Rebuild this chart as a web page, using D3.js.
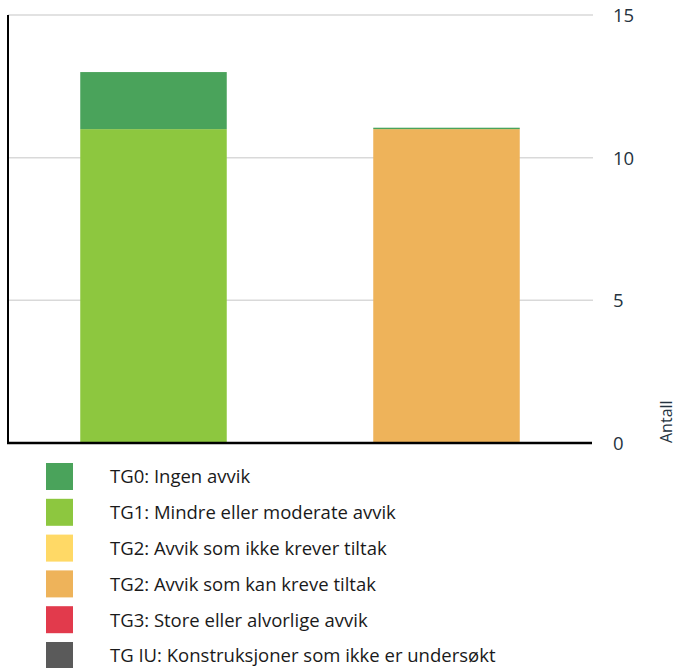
<!DOCTYPE html>
<html>
<head>
<meta charset="utf-8">
<script src="https://cdn.jsdelivr.net/npm/d3@7"></script>
<style>
  html, body { margin: 0; padding: 0; background: #fff; }
  svg { display: block; }
  text { font-family: "Open Sans", Lato, sans-serif; }
</style>
</head>
<body>
<svg id="chart" width="687" height="668"></svg>
<script>
const categories = ["A", "B"];
const seriesNames = [
  "TG0: Ingen avvik",
  "TG1: Mindre eller moderate avvik",
  "TG2: Avvik som ikke krever tiltak",
  "TG2: Avvik som kan kreve tiltak",
  "TG3: Store eller alvorlige avvik",
  "TG IU: Konstruksjoner som ikke er undersøkt"
];
const seriesColors = ["#4aa35b", "#8dc73f", "#ffd966", "#eeb35a", "#e23a4c", "#5a5a5a"];
// stacking order bottom -> top
const tg1 = [11, 0];
const tg2ikke = [0, 0];
const tg2kan = [0, 11];
const tg3 = [0, 0];
const tgiu = [0, 0];
const tg0 = [2, 0.05];
const yTicks = [0, 5, 10, 15];
const yLabel = "Antall";

(function () {
const stackOrder = [
  { name: seriesNames[1], color: seriesColors[1], values: tg1 },
  { name: seriesNames[2], color: seriesColors[2], values: tg2ikke },
  { name: seriesNames[3], color: seriesColors[3], values: tg2kan },
  { name: seriesNames[4], color: seriesColors[4], values: tg3 },
  { name: seriesNames[5], color: seriesColors[5], values: tgiu },
  { name: seriesNames[0], color: seriesColors[0], values: tg0 }
];

const svg = d3.select("#chart");
const pLeft = 7, pRight = 593, pTop = 15, pBottom = 443;

const x = d3.scaleBand().domain(categories).range([pLeft, pRight]).paddingInner(0.5).paddingOuter(0.25);
const y = d3.scaleLinear().domain([0, 15]).range([pBottom, pTop]);

// gridlines
svg.append("g").selectAll("line").data(yTicks.filter(t => t > 0)).join("line")
  .attr("x1", 8).attr("x2", pRight)
  .attr("y1", d => y(d)).attr("y2", d => y(d))
  .attr("stroke", "#d9d9d9").attr("stroke-width", 1.5);

// stacked bars
const table = categories.map((c, i) => {
  const row = { cat: c };
  stackOrder.forEach(s => row[s.name] = s.values[i]);
  return row;
});
const stack = d3.stack().keys(stackOrder.map(s => s.name));
const layers = stack(table);
svg.append("g").selectAll("g").data(layers).join("g")
  .attr("fill", (d, i) => stackOrder[i].color)
  .selectAll("rect").data(d => d).join("rect")
  .attr("x", d => x(d.data.cat))
  .attr("width", x.bandwidth())
  .attr("y", d => y(d[1]))
  .attr("height", d => y(d[0]) - y(d[1]));

// right axis
const axis = d3.axisRight(y).tickValues(yTicks).tickSize(0).tickPadding(20);
const ag = svg.append("g").attr("transform", `translate(${pRight},0)`).call(axis);
ag.select(".domain").remove();
ag.selectAll("text").attr("font-size", 18.5).attr("fill", "#253340")
  .attr("font-family", "'Open Sans', sans-serif").attr("dy", "0.35em");

// left axis line & baseline
svg.append("line").attr("x1", 8).attr("x2", 8).attr("y1", pTop).attr("y2", pBottom + 1)
  .attr("stroke", "#000").attr("stroke-width", 2);
svg.append("line").attr("x1", 7).attr("x2", 592).attr("y1", pBottom).attr("y2", pBottom)
  .attr("stroke", "#000").attr("stroke-width", 2.5);

// y label
svg.append("text").attr("transform", `translate(672,443) rotate(-90)`)
  .attr("font-size", 16).attr("fill", "#253340").attr("text-anchor", "start")
  .text(yLabel);

// legend
const lg = svg.append("g").attr("transform", "translate(46,463)");
const items = lg.selectAll("g").data(seriesNames).join("g")
  .attr("transform", (d, i) => `translate(0,${i * 35.8})`);
items.append("rect").attr("width", 27).attr("height", 27)
  .attr("fill", (d, i) => seriesColors[i]);
items.append("text").attr("x", 64).attr("y", 14).attr("dy", "0.35em")
  .attr("font-size", 18.5).attr("fill", "#1a1a1a").text(d => d);
})();
</script>
</body>
</html>
